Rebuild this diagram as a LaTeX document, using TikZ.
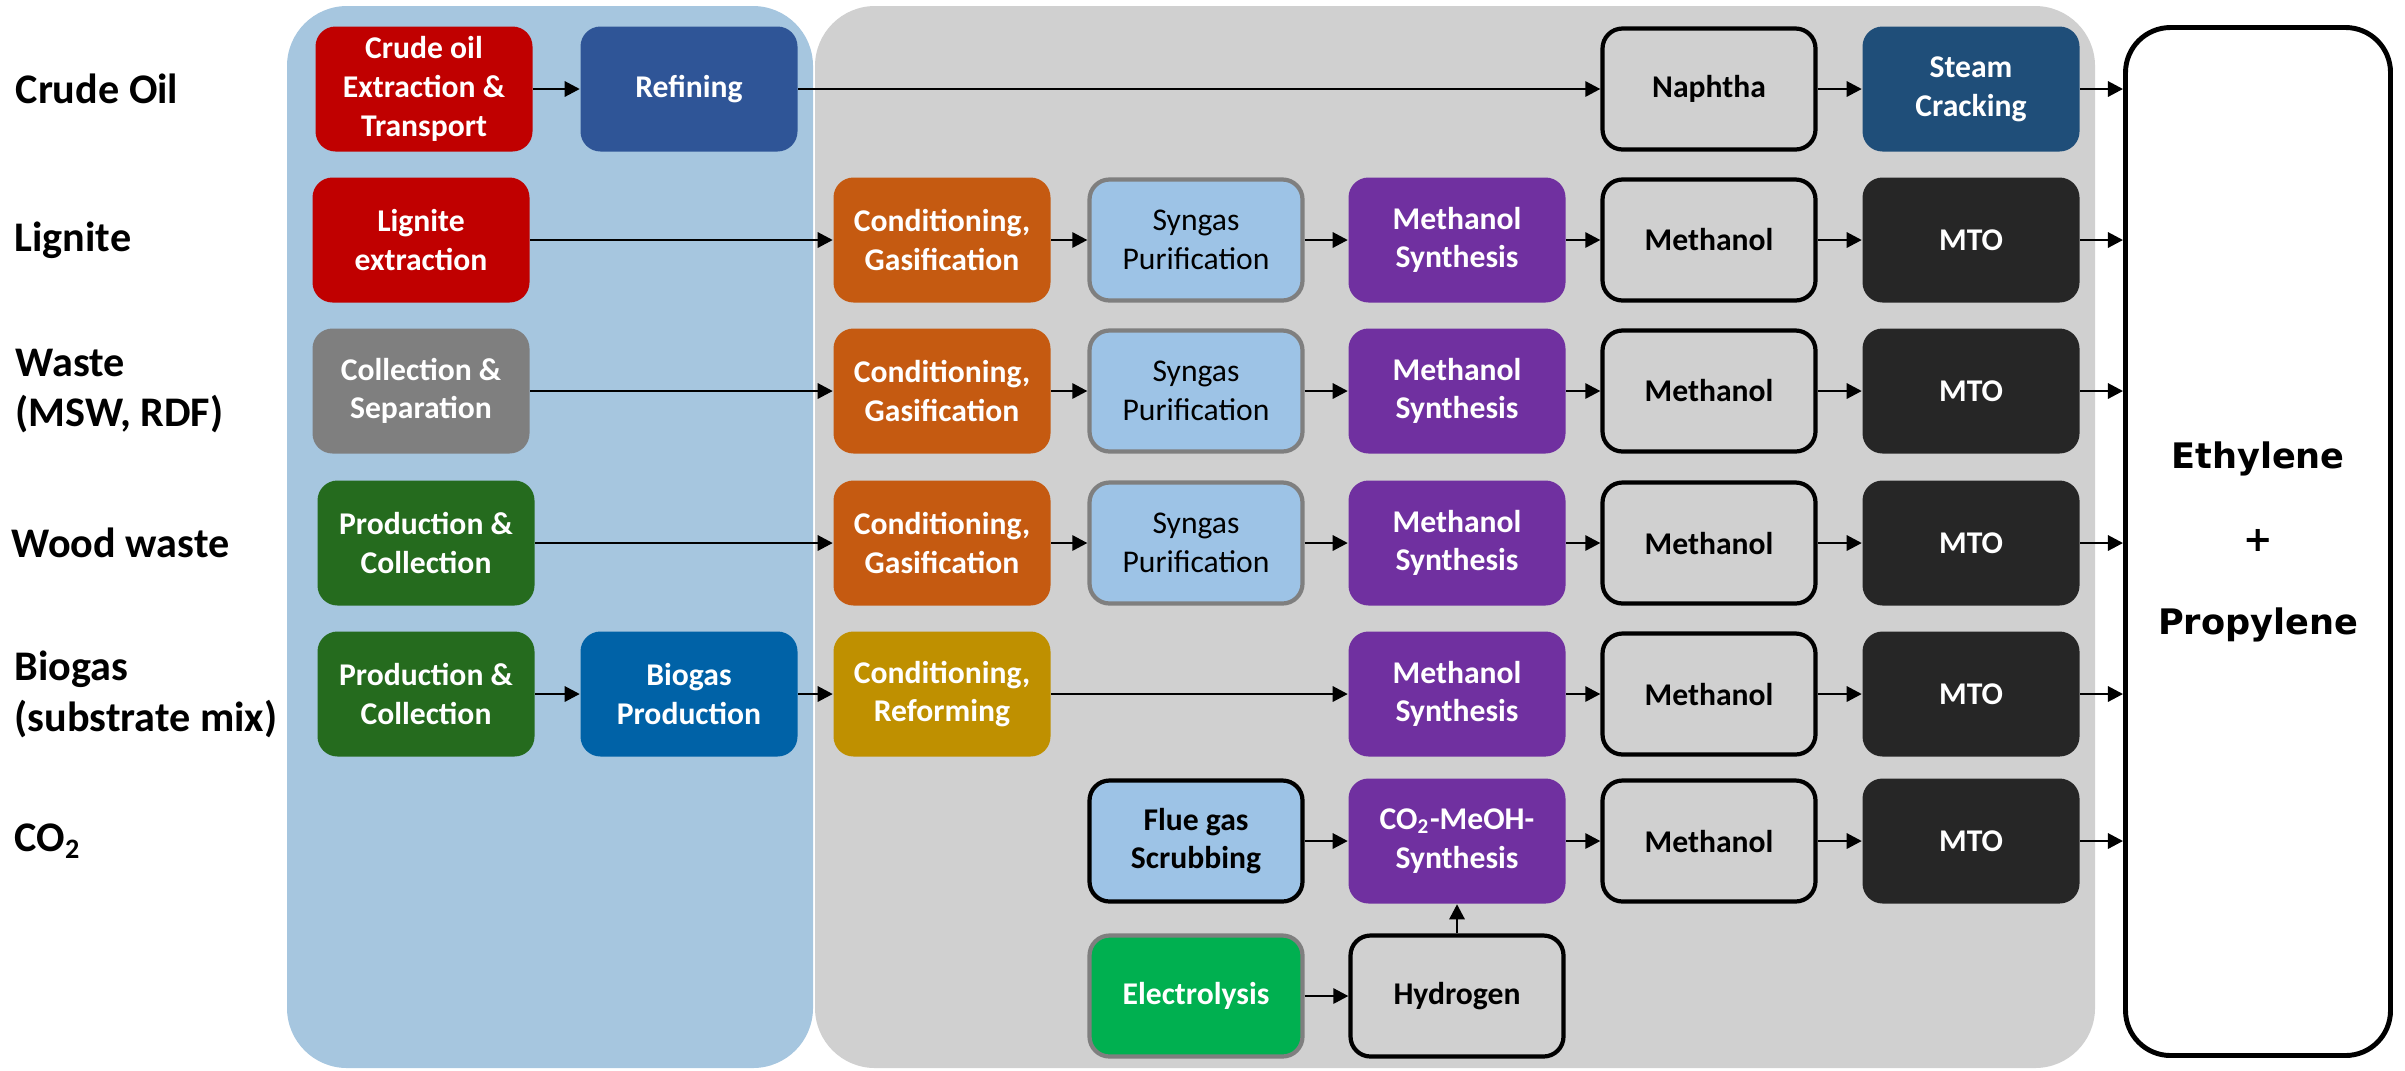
\documentclass[tikz,border=0pt]{standalone}
\usepackage{fontspec}
\setmainfont{Carlito}
\newfontfamily\olefinfont{DejaVu Sans}
\usetikzlibrary{arrows.meta,positioning}

\definecolor{crudered}{HTML}{C00000}
\definecolor{refineblue}{HTML}{2F5597}
\definecolor{wastegray}{HTML}{7F7F7F}
\definecolor{woodgreen}{HTML}{256B1E}
\definecolor{biogasblue}{HTML}{0062A7}
\definecolor{gasorange}{HTML}{C55A11}
\definecolor{reformgold}{HTML}{BF9000}
\definecolor{syngasblue}{HTML}{9DC3E6}
\definecolor{meohpurple}{HTML}{7030A0}
\definecolor{steamblue}{HTML}{1F4E79}
\definecolor{mtoblack}{HTML}{262626}
\definecolor{elecgreen}{HTML}{00B050}
\definecolor{panelblue}{HTML}{A6C6DF}
\definecolor{panelgray}{HTML}{D0D0D0}

\begin{document}
\begin{tikzpicture}[
    box/.style={rectangle, rounded corners=0.2cm, minimum width=2.17cm,
        minimum height=1.25cm, inner sep=1pt, align=center, text=white,
        font=\fontsize{9}{11}\selectfont\bfseries},
    framed/.style={box, draw=black, line width=1.2pt, minimum width=2.13cm,
        minimum height=1.21cm, fill=panelgray, text=black},
    greyframed/.style={framed, draw=wastegray},
    rowlabel/.style={anchor=west, align=left, inner sep=0pt,
        font=\fontsize{12}{14.5}\selectfont\bfseries},
    flow/.style={-{Triangle[length=4.3pt,width=4.3pt]}, line width=0.8pt}
]
    \useasboundingbox (0,0) rectangle (24.05,-10.70);
    % panels
    \fill[panelblue] (2.87,-0.06) [rounded corners=0.6cm] rectangle (8.13,-10.68);
    \fill[panelgray] (8.15,-0.06) [rounded corners=0.6cm] rectangle (20.95,-10.68);
    \node[draw=black, fill=white, line width=1.4pt, rounded corners=0.45cm,
        minimum width=2.65cm, minimum height=10.28cm, align=center,
        font=\olefinfont\fontsize{10}{23.6}\selectfont\bfseries]
        (olefin) at (22.58,-5.415) {Ethylene\\+\\Propylene};

    % row labels
    \node[rowlabel] (lcrude) at (0.15,-0.89) {Crude Oil};
    \node[rowlabel] (llignite) at (0.14,-2.40) {Lignite};
    \node[rowlabel] (lwaste) at (0.15,-3.91) {Waste\\(MSW, RDF)};
    \node[rowlabel] (lwood) at (0.11,-5.43) {Wood waste};
    \node[rowlabel] (lbiogas) at (0.14,-6.94) {Biogas\\(substrate mix)};
    \node[rowlabel] (lco2) at (0.14,-8.41) {CO\textsubscript{2}};

    % crude oil route
    \node[box, fill=crudered] (crude) at (4.24,-0.89) {Crude oil\\Extraction \&\\Transport};
    \node[box, fill=refineblue] (refine) at (6.89,-0.89) {Refining};
    \node[framed] (naphtha) at (17.09,-0.89) {Naphtha};
    \node[box, fill=steamblue] (steam) at (19.71,-0.89) {Steam\\Cracking};
    \draw[flow] (crude) -- (refine);
    \draw[flow] (refine) -- (naphtha);
    \draw[flow] (naphtha) -- (steam);
    \draw[flow] (steam) -- (steam -| olefin.west);

    % gasification routes
    \foreach \r/\y/\x/\c/\t in {2/-2.40/4.21/crudered/{Lignite\\extraction},
        3/-3.91/4.21/wastegray/{Collection \&\\Separation},
        4/-5.43/4.26/woodgreen/{Production \&\\Collection}} {
        \node[box, fill=\c] (src\r) at (\x,\y) {\t};
        \node[box, fill=gasorange] (cond\r) at (9.42,\y) {Conditioning,\\Gasification};
        \node[greyframed, fill=syngasblue, font=\fontsize{9}{11}\selectfont]
            (syn\r) at (11.96,\y) {Syngas\\Purification};
        \node[box, fill=meohpurple] (meoh\r) at (14.57,\y) {Methanol\\Synthesis};
        \draw[flow] (src\r) -- (cond\r);
        \draw[flow] (cond\r) -- (syn\r);
        \draw[flow] (syn\r) -- (meoh\r);
    }

    % biogas route
    \node[box, fill=woodgreen] (src5) at (4.26,-6.94) {Production \&\\Collection};
    \node[box, fill=biogasblue] (biogas) at (6.89,-6.94) {Biogas\\Production};
    \node[box, fill=reformgold] (cond5) at (9.42,-6.94) {Conditioning,\\Reforming};
    \node[box, fill=meohpurple] (meoh5) at (14.57,-6.94) {Methanol\\Synthesis};
    \draw[flow] (src5) -- (biogas);
    \draw[flow] (biogas) -- (cond5);
    \draw[flow] (cond5) -- (meoh5);

    % CO2 route
    \node[framed, fill=syngasblue] (flue) at (11.96,-8.41) {Flue gas\\Scrubbing};
    \node[box, fill=meohpurple] (meoh6) at (14.57,-8.41) {CO\textsubscript{2}-MeOH-\\Synthesis};
    \node[greyframed, fill=elecgreen, text=white] (elec) at (11.96,-9.96) {Electrolysis};
    \node[framed] (hydrogen) at (14.57,-9.96) {Hydrogen};
    \draw[flow] (flue) -- (meoh6);
    \draw[flow] (elec) -- (hydrogen);
    \draw[flow] (hydrogen) -- (meoh6);

    % methanol to olefins
    \foreach \r/\y in {2/-2.40, 3/-3.91, 4/-5.43, 5/-6.94, 6/-8.41} {
        \node[framed] (meth\r) at (17.09,\y) {Methanol};
        \node[box, fill=mtoblack] (mto\r) at (19.71,\y) {MTO};
        \draw[flow] (meoh\r) -- (meth\r);
        \draw[flow] (meth\r) -- (mto\r);
        \draw[flow] (mto\r) -- (mto\r -| olefin.west);
    }
\end{tikzpicture}
\end{document}
